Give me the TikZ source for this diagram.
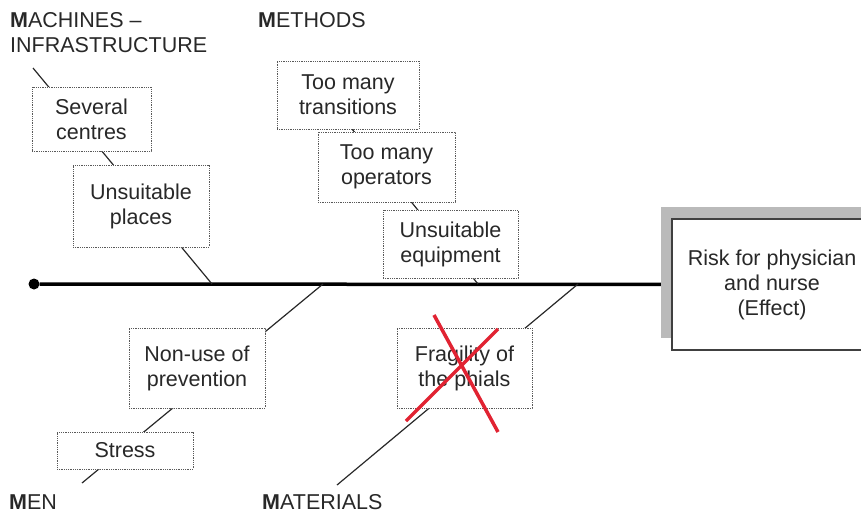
\documentclass[tikz,border=0pt]{standalone}
\usepackage{fontspec}
\setmainfont{Liberation Sans}
\usetikzlibrary{backgrounds, shadows}
\definecolor{ink}{RGB}{40,40,40}
\definecolor{crossred}{RGB}{225,35,50}

\begin{document}
\begin{tikzpicture}[x=1pt, y=-1pt,
    every node/.style={font=\fontsize{21.5}{25}\selectfont, text=ink},
    cause/.style={draw=black!65, densely dotted, line width=0.8pt, fill=white, align=center, inner sep=0pt, minimum width=136pt},
    category/.style={anchor=west, align=left, inner sep=0pt},
    bone/.style={draw=ink, line width=1.2pt}]
    \useasboundingbox (0,0) rectangle (861,514);
    \clip (0,0) rectangle (861,514);
    \node[category] (machines) at (10,33) {\textbf{M}ACHINES –\\INFRASTRUCTURE};
    \node[category] (methods) at (258,20) {\textbf{M}ETHODS};
    \node[category] (men) at (9,502.5) {\textbf{M}EN};
    \node[category] (materials) at (262,502) {\textbf{M}ATERIALS};
    \node[cause, minimum width=119pt, minimum height=64pt] (several) at (91.5,119) {Several\\centres};
    \node[cause, minimum height=82pt] (places) at (141,206) {Unsuitable\\places};
    \node[cause, minimum width=142pt, minimum height=68pt] (transit) at (348,95) {Too many\\transitions};
    \node[cause, minimum width=137pt, minimum height=70pt] (operators) at (386.5,167) {Too many\\operators};
    \node[cause, minimum width=135pt, minimum height=68pt] (equip) at (450.5,244) {Unsuitable\\equipment};
    \node[cause, minimum height=80pt] (nonuse) at (197,368) {Non-use of\\prevention};
    \node[cause, minimum height=37pt] (stress) at (125,450.5) {Stress};
    \node[cause, minimum width=135pt, minimum height=80pt] (phials) at (464.5,368) {Fragility of\\the phials};
    \node[draw=black!75, line width=1.5pt, fill=white, align=center, minimum width=200pt, minimum height=131pt,
        general shadow={fill=black!27, shadow xshift=-11pt, shadow yshift=12pt}] (effect) at (772,284.5) {Risk for physician\\and nurse\\(Effect)};
    \coordinate (tail) at (34,284);
    \coordinate (machtop) at (33,68);
    \coordinate (machfoot) at (212,284);
    \coordinate (methtop) at (352,129);
    \coordinate (methfoot) at (478,284);
    \coordinate (menfoot) at (323,284);
    \coordinate (menend) at (82,483);
    \coordinate (matfoot) at (578,284);
    \coordinate (matend) at (337,485);
    \node[circle, fill=black, inner sep=0pt, minimum size=11pt] (dot) at (tail) {};
    \begin{scope}[on background layer]
        \draw[line width=3.5pt] (dot) -- (effect.west);
        \draw[bone] (machtop) -- (machfoot);
        \draw[bone] (methtop) -- (methfoot);
        \draw[bone] (menfoot) -- (menend);
        \draw[bone] (matfoot) -- (matend);
    \end{scope}
    \draw[crossred, line width=3.5pt] (434,315) -- (498,432);
    \draw[crossred, line width=3.5pt] (498,329) -- (406,421);
\end{tikzpicture}
\end{document}
